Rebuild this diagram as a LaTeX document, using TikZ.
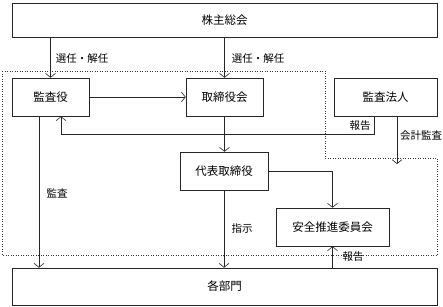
\documentclass[tikz,border=0pt]{standalone}
\usepackage{fontspec}
\setmainfont{Noto Sans CJK JP}
\usetikzlibrary{arrows.meta}
\begin{document}
\begin{tikzpicture}[x=1pt,y=-1pt,
  box/.style={draw=black!85, line width=0.6pt, inner sep=0pt, font=\fontsize{11.5}{11.5}\selectfont},
  lbl/.style={font=\fontsize{10.5}{11}\selectfont, inner sep=1pt},
  conn/.style={draw=black!85, line width=0.6pt, -{Straight Barb[length=4pt,width=10pt]}},
  fence/.style={draw=black!80, dotted, line width=0.5pt}]
\useasboundingbox (0,0) rectangle (443,306);
\draw[fence] (2,71) -- (325,71) -- (325,158) -- (437,158) -- (437,255) -- (2,255) -- cycle;
\node[box, minimum width=425pt, minimum height=34pt] (kabu) at (224.5,20) {株主総会};
\node[box, minimum width=77pt, minimum height=38pt] (kansa) at (50.5,97) {監査役};
\node[box, minimum width=77pt, minimum height=38pt] (tori) at (224.5,97) {取締役会};
\node[box, minimum width=103pt, minimum height=38pt] (houjin) at (385.5,97) {監査法人};
\node[box, minimum width=88pt, minimum height=38pt] (daihyo) at (224,171) {代表取締役};
\node[box, minimum width=113pt, minimum height=38pt] (anzen) at (332.5,227) {安全推進委員会};
\node[box, minimum width=425pt, minimum height=37pt] (kakubu) at (224.5,286.5) {各部門};
\coordinate (r1) at (374,134);
\coordinate (r2) at (61,134);
\coordinate (aud) at (397,164);
\coordinate (k) at (39,0);
\draw[conn] (kabu.south -| kansa) -- (kansa.north);
\draw[conn] (kabu.south -| tori) -- (tori.north);
\draw[conn] (kansa.east) -- (tori.west);
\draw[conn] (houjin.south -| r1) -- (r1) -- (r2) -- (kansa.south -| r2);
\draw[conn] (houjin.south -| aud) -- (aud);
\draw[conn] (tori.south) -- (tori.south |- daihyo.north);
\draw[conn] (daihyo.east) -| (anzen.north);
\draw[conn] (daihyo.south) -- (daihyo.south |- kakubu.north);
\draw[conn] (kansa.south -| k) -- (kakubu.north -| k);
\draw[conn] (kakubu.north -| anzen) -- (anzen.south);
\node[lbl] (l1) at (82,59) {選任・解任};
\node[lbl] (l2) at (258,59) {選任・解任};
\node[lbl] (l3) at (360,126) {報告};
\node[lbl] (l4) at (421,136) {会計監査};
\node[lbl] (l5) at (57,193) {監査};
\node[lbl] (l6) at (242,229) {指示};
\node[lbl] (l7) at (353,257) {報告};
\end{tikzpicture}
\end{document}
